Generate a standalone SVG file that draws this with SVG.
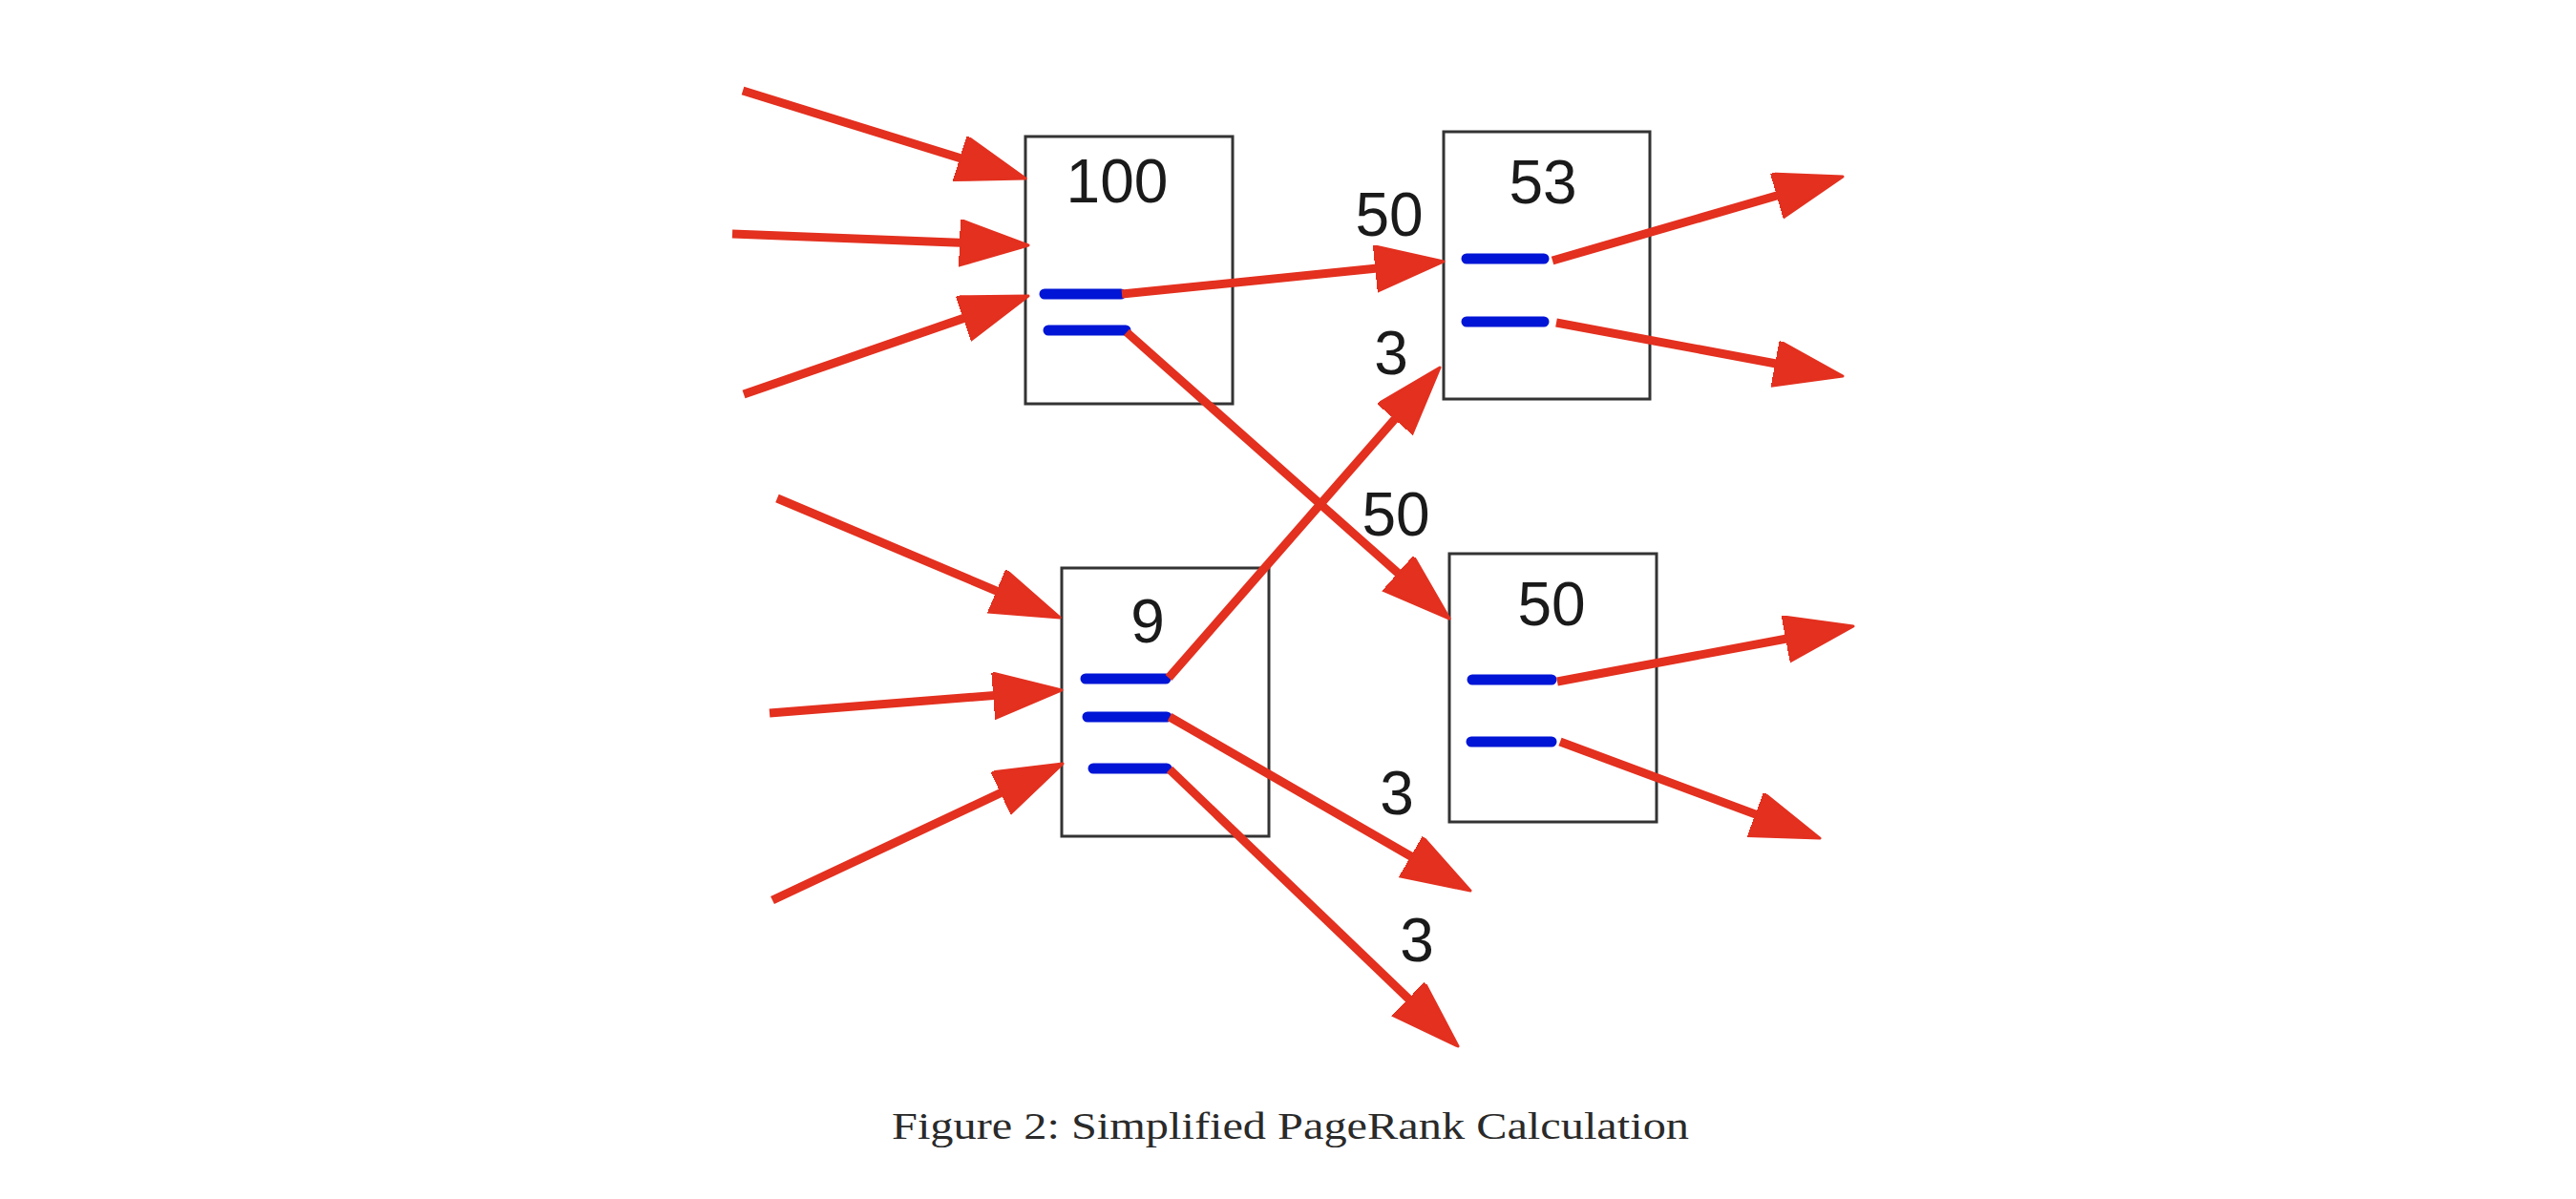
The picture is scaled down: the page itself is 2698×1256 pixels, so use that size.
<svg xmlns="http://www.w3.org/2000/svg" width="2698" height="1256" viewBox="0 0 2698 1256">
<style>
.box{fill:none;stroke:#333;stroke-width:3}
.num{font-family:"Liberation Sans",Arial,sans-serif;font-size:64px;fill:#1a1a1a;text-anchor:middle}
.bar{stroke:#0015d5;stroke-width:11;stroke-linecap:round}
.arr{fill:none;stroke:#e3301f;stroke-width:9;marker-end:url(#ah)}
.cap{font-family:"Liberation Serif","Times New Roman",serif;font-size:41px;fill:#2a2a2a}
</style>
<defs>
<marker id="ah" markerUnits="userSpaceOnUse" markerWidth="80" markerHeight="56" refX="42" refY="24" orient="auto">
<path d="M0,0 L72,24 L0,48 Z" fill="#e3301f" stroke="#e3301f" stroke-width="3" stroke-linejoin="round"/>
</marker>
</defs>
<rect width="2698" height="1256" fill="#ffffff"/>
<g id="node-100">
<rect class="box" x="1074" y="143" width="217" height="280"/>
<text class="num" x="1170" y="212">100</text>
<line class="bar" x1="1094" y1="308" x2="1174" y2="308"/>
<line class="bar" x1="1098" y1="346" x2="1179" y2="346"/>
</g>
<g id="node-53">
<rect class="box" x="1512" y="138" width="216" height="280"/>
<text class="num" x="1616" y="213">53</text>
<line class="bar" x1="1536" y1="271" x2="1617" y2="271"/>
<line class="bar" x1="1536" y1="337" x2="1617" y2="337"/>
</g>
<g id="node-9">
<rect class="box" x="1112" y="595" width="217" height="281"/>
<text class="num" x="1202" y="673">9</text>
<line class="bar" x1="1137" y1="711" x2="1221" y2="711"/>
<line class="bar" x1="1139" y1="751" x2="1222" y2="751"/>
<line class="bar" x1="1145" y1="805" x2="1222" y2="805"/>
</g>
<g id="node-50">
<rect class="box" x="1518" y="580" width="217" height="281"/>
<text class="num" x="1625" y="655">50</text>
<line class="bar" x1="1542" y1="712" x2="1625" y2="712"/>
<line class="bar" x1="1541" y1="777" x2="1625" y2="777"/>
</g>
<g id="connectors">
<line class="arr" x1="778" y1="95" x2="1045.4" y2="178.1"/>
<line class="arr" x1="767" y1="245" x2="1047" y2="255.8"/>
<line class="arr" x1="779" y1="413" x2="1048.6" y2="319.8"/>
<line class="arr" x1="1175" y1="308" x2="1482.1" y2="277"/>
<line class="arr" x1="1180" y1="348" x2="1495.6" y2="628.1"/>
<line class="arr" x1="1626" y1="273" x2="1901.2" y2="193.3"/>
<line class="arr" x1="1630" y1="338" x2="1900.5" y2="388.5"/>
<line class="arr" x1="814" y1="522" x2="1082.4" y2="635.3"/>
<line class="arr" x1="806" y1="747" x2="1082.1" y2="725.3"/>
<line class="arr" x1="809" y1="943" x2="1085.9" y2="812.8"/>
<line class="arr" x1="1224" y1="710" x2="1488.3" y2="407.6"/>
<line class="arr" x1="1225" y1="751" x2="1514" y2="918"/>
<line class="arr" x1="1225" y1="806" x2="1505.4" y2="1075.2"/>
<line class="arr" x1="1631" y1="714" x2="1911.5" y2="661.5"/>
<line class="arr" x1="1634" y1="777" x2="1877.9" y2="867.6"/>
<text class="num" x="1455" y="247">50</text>
<text class="num" x="1462" y="561">50</text>
<text class="num" x="1457" y="392">3</text>
<text class="num" x="1463" y="853">3</text>
<text class="num" x="1484" y="1007">3</text>
</g>
<text class="cap" x="934" y="1193" textLength="835" lengthAdjust="spacingAndGlyphs">Figure 2: Simplified PageRank Calculation</text>
</svg>
